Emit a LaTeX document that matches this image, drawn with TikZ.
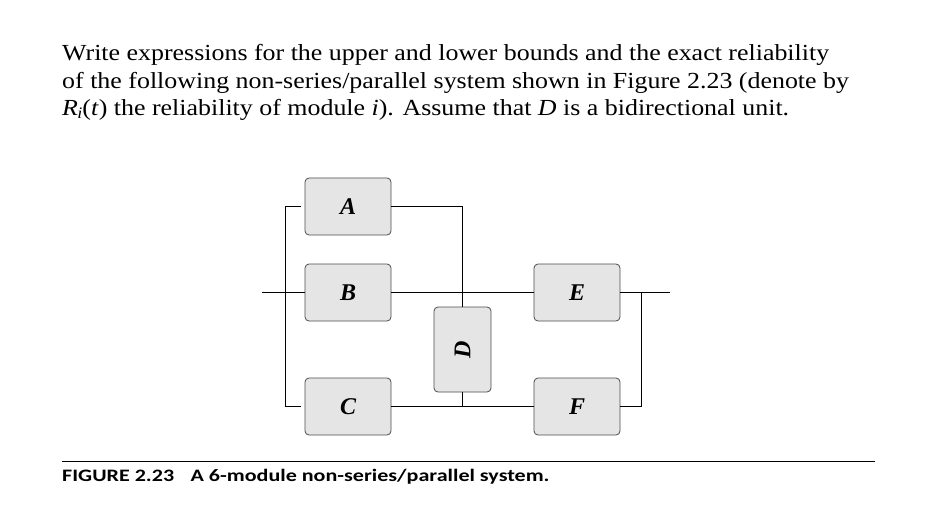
\documentclass[tikz,border=0pt]{standalone}
\usepackage{fontspec}
\setmainfont{Liberation Serif}
\newfontfamily\capfont{Carlito}
\begin{document}
\begin{tikzpicture}[x=1pt,y=-1pt,
  module/.style={draw=black!70, fill=black!10, rounded corners=4pt, line width=0.8pt,
    minimum width=86pt, minimum height=57pt, inner sep=0pt,
    font=\fontsize{24}{24}\selectfont\bfseries\itshape},
  wire/.style={line width=0.9pt},
  txt/.style={anchor=base west, inner sep=0pt, font=\fontsize{23}{24}\selectfont}]
\useasboundingbox (0,0) rectangle (931,513);
\node[txt] (l1) at (62,61) {\scalebox{1.127}[1]{Write expressions for the upper and lower bounds and the exact reliability}};
\node[txt] (l2) at (62,88.5) {\scalebox{1.127}[1]{of the following non-series/parallel system shown in Figure 2.23 (denote by}};
\node[txt] (l3) at (62,115.5) {\scalebox{1.127}[1]{\textit{R\kern-0.5pt\raisebox{-3pt}{\fontsize{16}{16}\selectfont i}}(\textit{t}) the reliability of module \textit{i}). Assume that \textit{D} is a bidirectional unit.}};
\node[module] (A) at (348,206.5) {\raisebox{-2pt}{A}};
\node[module] (B) at (348,292.5) {\raisebox{-2pt}{B}};
\node[module] (C) at (348,406.5) {\raisebox{-2pt}{C}};
\node[module, minimum width=57pt, minimum height=85pt] (D) at (462.5,349.5) {\rotatebox{90}{D}};
\node[module] (E) at (577,292.5) {\raisebox{-2pt}{E}};
\node[module] (F) at (577,406.5) {\raisebox{-2pt}{F}};
\coordinate (in) at (262,292.5);
\coordinate (out) at (670,292.5);
\coordinate (lt) at (285,206.5);
\coordinate (lb) at (285,406.5);
\coordinate (ltA) at (301,206.5);
\coordinate (lbC) at (301,406.5);
\coordinate (dt) at (462.5,206.5);
\coordinate (db) at (462.5,406.5);
\coordinate (rt) at (641,292.5);
\coordinate (rb) at (641,406.5);
\draw[wire] (in) -- (B.west);
\draw[wire] (ltA) -- (lt) -- (lb) -- (lbC);
\draw[wire] (A.east) -- (dt) -- (D.north);
\draw[wire] (B.east) -- (E.west);
\draw[wire] (C.east) -- (F.west);
\draw[wire] (D.south) -- (db);
\draw[wire] (E.east) -- (out);
\draw[wire] (F.east) -- (rb) -- (rt);
\coordinate (r1) at (62,461);
\coordinate (r2) at (875,461);
\draw[line width=0.8pt] (r1) -- (r2);
\node[anchor=base west, inner sep=0pt, font=\capfont\fontsize{17.5}{20}\selectfont\bfseries] (cap) at (62,481.5) {\scalebox{1.26}[1]{FIGURE 2.23\hspace{13pt}A 6-module non-series/parallel system.}};
\end{tikzpicture}
\end{document}
